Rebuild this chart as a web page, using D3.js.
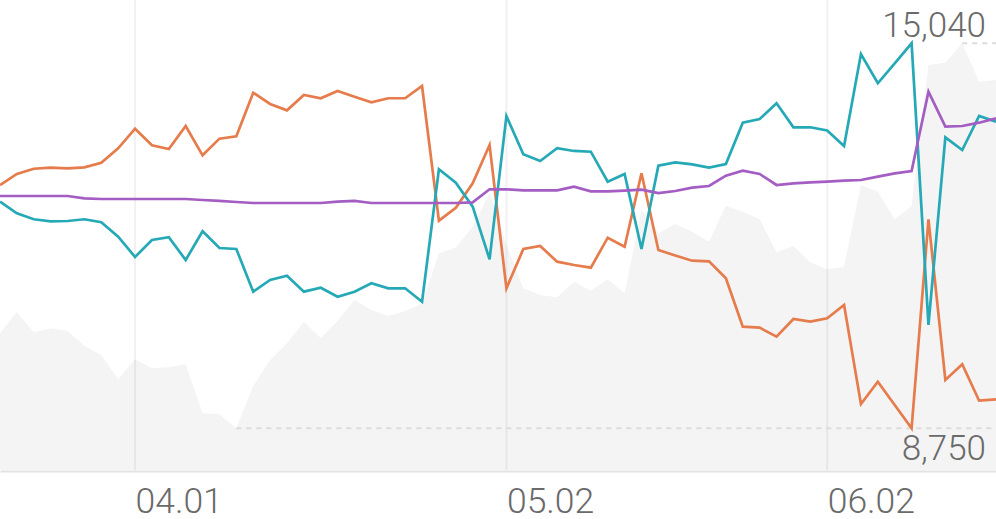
<!DOCTYPE html>
<html><head><meta charset="utf-8">
<script src="https://cdn.jsdelivr.net/npm/d3@7"></script>
<style>
html,body{margin:0;padding:0;background:#fff;}
svg{display:block;}
text{font-family:Roboto,"Noto Sans",sans-serif;}
</style>
</head><body>
<svg id="chart" width="996" height="519"></svg>
<script>
// background area series (grey)
const areaValues = [10302,10645,10318,10384,10340,10100,9948,9551,9877,9730,
  9747,9796,8995,8979,8750,9441,9866,10139,10492,10220,
  10503,10846,10683,10585,10666,10792,11609,11701,12044,12589,
  11745,11037,10928,10890,11145,10998,11184,10956,12317,11936,
  12088,11962,11799,12387,12289,12165,11626,11728,11462,11344,
  11390,12725,12616,12165,12382,14686,14723,15040,14413,14441];
// orange line
const seriesOrange = [12725,12905,12991,13008,12998,13014,13089,13325,13645,13374,
  13313,13689,13210,13482,13521,14233,14049,13945,14196,14142,
  14261,14168,14076,14142,14142,14343,12142,12354,12753,13379,
  11037,11679,11728,11472,11418,11374,11864,11717,12916,11663,
  11573,11488,11478,11201,10410,10394,10247,10536,10492,10547,
  10764,9147,9511,9131,8750,12165,9539,9796,9201,9224];
// teal line
const seriesTeal = [12452,12263,12165,12132,12137,12165,12116,11880,11549,11826,
  11871,11500,11969,11696,11679,10982,11173,11243,10982,11047,
  10900,10982,11119,11037,11037,10818,12982,12763,12371,11511,
  13852,13227,13117,13325,13281,13269,12779,12905,11679,13040,
  13093,13063,13008,13068,13743,13803,14060,13668,13668,13615,
  13362,14865,14387,14713,15040,10438,13504,13297,13852,13759];
// purple line
const seriesPurple = [12545,12545,12545,12545,12545,12508,12496,12496,12496,12496,
  12496,12496,12480,12464,12447,12431,12431,12431,12431,12431,
  12452,12464,12431,12431,12431,12431,12431,12431,12442,12655,
  12655,12638,12638,12638,12697,12622,12622,12632,12648,12594,
  12627,12681,12709,12877,12959,12905,12725,12753,12769,12779,
  12795,12807,12861,12916,12954,14249,13678,13689,13743,13815];
const tickIndex = [8, 30, 49];
const tickLabels = ["04.01", "05.02", "06.02"];

const W = 996, H = 519, plotBottom = 470;
const svg = d3.select("#chart");
const idx = d3.range(areaValues.length);
const x = d3.scalePoint().domain(idx).range([0, W]);
const minV = d3.min(areaValues), maxV = d3.max(areaValues);
const y = d3.scaleLinear().domain([minV, maxV]).range([428.3, 43.3]);

// area
svg.append("path")
  .datum(idx)
  .attr("fill", "#f4f4f4")
  .attr("d", d3.area().x(i => x(i)).y0(plotBottom).y1(i => y(areaValues[i])));

// vertical grid lines
svg.append("g").selectAll("line").data(tickIndex).join("line")
  .attr("x1", d => x(d)).attr("x2", d => x(d))
  .attr("y1", 0).attr("y2", plotBottom)
  .attr("stroke", "rgba(0,0,0,0.055)").attr("stroke-width", 2);

// min / max dashed reference lines
const iMin = areaValues.indexOf(minV), iMax = areaValues.indexOf(maxV);
[[iMin, minV], [iMax, maxV]].forEach(([i, v]) => {
  svg.append("line")
    .attr("x1", x(i)).attr("x2", W)
    .attr("y1", y(v)).attr("y2", y(v))
    .attr("stroke", "#dcdcdc").attr("stroke-width", 2)
    .attr("stroke-dasharray", "5,5");
});

// lines
const line = s => d3.line().x(i => x(i)).y(i => y(s[i]));
[[seriesOrange, "#e67b4c"], [seriesTeal, "#26a9b6"], [seriesPurple, "#a35dc3"]].forEach(([s, c]) => {
  svg.append("path").datum(idx)
    .attr("fill", "none").attr("stroke", c).attr("stroke-width", 2.7)
    .attr("stroke-linejoin", "miter").attr("d", line(s));
});

// x axis
const axis = d3.axisBottom(x).tickValues(tickIndex)
  .tickFormat(d => tickLabels[tickIndex.indexOf(d)])
  .tickSize(0).tickSizeOuter(0).tickPadding(17);
const gx = svg.append("g").attr("transform", `translate(0,${plotBottom + 1})`).call(axis);
gx.select(".domain").attr("stroke", "#e3e3e3").attr("stroke-width", 2);
gx.selectAll("text")
  .attr("text-anchor", "start")
  .attr("fill", "#6a6a6a")
  .style("font-size", "35.5px").style("font-weight", 300)
  .style("font-family", "Roboto, 'Noto Sans', sans-serif");

// min / max labels
const fmt = d3.format(",");
svg.append("text").attr("x", 986).attr("y", y(maxV) - 6)
  .attr("text-anchor", "end").attr("fill", "#6a6a6a")
  .style("font-size", "35px").style("font-weight", 300).text(fmt(maxV));
svg.append("text").attr("x", 986).attr("y", y(minV) + 32)
  .attr("text-anchor", "end").attr("fill", "#6a6a6a")
  .style("font-size", "35px").style("font-weight", 300).text(fmt(minV));
</script>
</body></html>
